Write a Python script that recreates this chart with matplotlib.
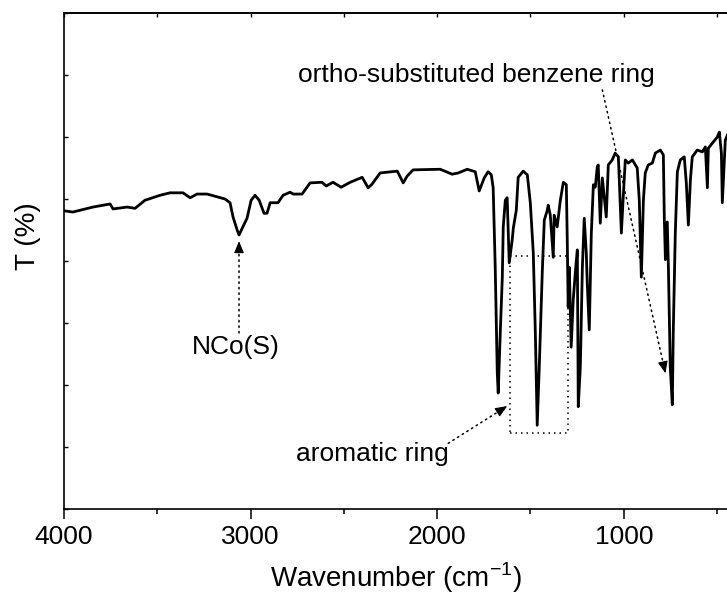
import numpy as np
import matplotlib.pyplot as plt
from matplotlib.patches import Rectangle
from matplotlib.ticker import MultipleLocator, NullFormatter

plt.rcParams['font.family'] = ['Liberation Sans', 'DejaVu Sans']
plt.rcParams['mathtext.fontset'] = 'custom'
plt.rcParams['mathtext.rm'] = 'Liberation Sans'

# FTIR spectrum, wavenumber (cm-1) vs transmittance (arb. units)
wavenumber = [4000, 3952, 3845, 3753, 3737, 3662, 3619, 3566, 3485, 3432,
              3362, 3324, 3287, 3233, 3137, 3110, 3094, 3072, 3062, 3040,
              3019, 2997, 2976, 2954, 2928, 2912, 2895, 2853, 2826, 2788,
              2772, 2724, 2681, 2617, 2595, 2558, 2515, 2466, 2402, 2370,
              2349, 2306, 2214, 2182, 2161, 2129, 1984, 1920, 1887, 1839,
              1796, 1775, 1748, 1727, 1710, 1700, 1689, 1678, 1673, 1662,
              1651, 1646, 1635, 1625, 1614, 1598, 1592, 1576, 1566, 1539,
              1517, 1501, 1485, 1474, 1464, 1453, 1437, 1426, 1410, 1405,
              1394, 1378, 1373, 1357, 1340, 1324, 1308, 1303, 1298, 1292,
              1282, 1271, 1260, 1249, 1244, 1233, 1222, 1212, 1201, 1196,
              1185, 1174, 1163, 1153, 1142, 1137, 1126, 1115, 1110, 1094,
              1083, 1062, 1046, 1029, 1013, 1003, 992, 976, 954, 928,
              917, 906, 895, 885, 869, 847, 831, 804, 788, 783,
              777, 767, 761, 751, 740, 735, 724, 713, 697, 676,
              665, 654, 643, 633, 606, 579, 563, 552, 547, 520,
              499, 488, 477, 472, 456, 445]
transmittance = [4.81, 4.79, 4.87, 4.92, 4.84, 4.87, 4.85, 4.98, 5.06, 5.10,
                 5.10, 5.02, 5.08, 5.08, 5.00, 4.94, 4.71, 4.50, 4.42, 4.56,
                 4.69, 4.98, 5.06, 4.98, 4.77, 4.77, 4.94, 4.94, 5.06, 5.11,
                 5.08, 5.08, 5.26, 5.27, 5.21, 5.27, 5.19, 5.27, 5.35, 5.18,
                 5.24, 5.42, 5.45, 5.26, 5.37, 5.47, 5.48, 5.40, 5.42, 5.48,
                 5.44, 5.13, 5.34, 5.44, 5.39, 5.18, 3.90, 2.19, 1.87, 2.84,
                 3.74, 4.55, 4.98, 5.02, 3.97, 4.34, 4.53, 4.82, 5.35, 5.45,
                 5.39, 4.94, 4.13, 2.84, 1.35, 2.29, 3.81, 4.66, 4.82, 4.90,
                 4.74, 4.06, 4.74, 4.55, 4.98, 5.27, 5.23, 4.34, 3.26, 3.90,
                 2.61, 3.37, 3.81, 4.18, 1.65, 2.29, 3.90, 4.69, 4.13, 3.66,
                 2.89, 4.45, 5.23, 5.19, 5.52, 5.55, 4.61, 5.34, 5.19, 4.71,
                 5.55, 5.63, 5.74, 5.68, 4.45, 5.03, 5.63, 5.58, 5.63, 5.50,
                 4.98, 3.74, 4.98, 5.42, 5.55, 5.58, 5.74, 5.79, 5.71, 4.71,
                 4.02, 4.63, 3.90, 2.29, 1.68, 2.84, 4.45, 5.44, 5.63, 5.68,
                 5.26, 4.58, 5.31, 5.68, 5.79, 5.76, 5.84, 5.18, 5.82, 5.92,
                 6.00, 6.08, 5.74, 4.94, 5.95, 6.03]

# band assignments: (label, text position, arrow tail, arrow head)
nco_label = 'NCo(S)'
nco_text = (3078, 2.61)
nco_arrow = ((3062, 2.84), (3062, 4.32))

arom_label = 'aromatic ring'
arom_text = (2348, 0.89)
arom_arrow = ((1941, 1.06), (1625, 1.66))
arom_box = (1609, 1298, 1.23, 4.08)   # x0, x1, y0, y1

ortho_label = 'ortho-substituted benzene ring'
ortho_text = (1791, 7.0)
ortho_arrow = ((1115, 6.76), (777, 2.19))

fig = plt.figure(figsize=(7.27, 5.97), dpi=100)
ax = fig.add_axes([0.088, 0.1474, 0.9125, 0.8308])

ax.plot(wavenumber, transmittance, color='black', lw=2.0, zorder=3)

ax.set_xlim(4000, 445)
ax.set_ylim(0, 8)

dot = (0, (1, 2.6))
for label, pos, (tail, head) in [(nco_label, nco_text, nco_arrow),
                                 (arom_label, arom_text, arom_arrow),
                                 (ortho_label, ortho_text, ortho_arrow)]:
    ax.text(pos[0], pos[1], label, fontsize=19, ha='center', va='center')
    # dotted leader line
    ax.annotate('', xy=head, xytext=tail, zorder=2,
                arrowprops=dict(arrowstyle='-', color='black', lw=1.1, ls=dot,
                                shrinkA=0, shrinkB=0))
    # solid filled head, pointing along the leader
    ph = ax.transData.transform(head)
    pt = ax.transData.transform(tail)
    u = (pt - ph) / np.hypot(*(pt - ph))
    ax.annotate('', xy=head, xytext=tuple(u * 9), textcoords='offset pixels',
                zorder=2,
                arrowprops=dict(arrowstyle='-|>,head_length=0.6,head_width=0.25',
                                color='black', lw=0.8, mutation_scale=12,
                                shrinkA=0, shrinkB=0))

x0, x1, y0, y1 = arom_box
ax.add_patch(Rectangle((x0, y0), x1 - x0, y1 - y0, fill=False, ec='black',
                       lw=1.1, ls=dot, zorder=2))

# axes styling
for s in ['left', 'bottom', 'top']:
    ax.spines[s].set_linewidth(1.2)
ax.spines['right'].set_visible(False)

ax.xaxis.set_major_locator(MultipleLocator(1000))
ax.xaxis.set_minor_locator(MultipleLocator(500))
ax.tick_params(axis='x', which='major', direction='out', length=7.5, width=1.1,
               labelsize=19, pad=4)
ax.tick_params(axis='x', which='minor', direction='out', length=3.5, width=1.1)

ax.yaxis.set_major_locator(MultipleLocator(1))
ax.yaxis.set_major_formatter(NullFormatter())
ax.tick_params(axis='y', which='major', direction='in', length=3, width=1.0)

top = ax.secondary_xaxis('top')
top.xaxis.set_major_locator(MultipleLocator(500))
top.xaxis.set_major_formatter(NullFormatter())
top.tick_params(direction='in', length=3, width=1.0)
top.spines['top'].set_linewidth(1.2)

ax.set_xlabel('Wavenumber (cm$^{-1}$)', fontsize=20)
ax.xaxis.set_label_coords(0.5, -0.139)
ax.xaxis.label.set_va('center')
ax.set_ylabel('T (%)', fontsize=20)
ax.yaxis.set_label_coords(-0.054, 0.55)
ax.yaxis.label.set_va('center')

fig.savefig('out.png', dpi=100)
